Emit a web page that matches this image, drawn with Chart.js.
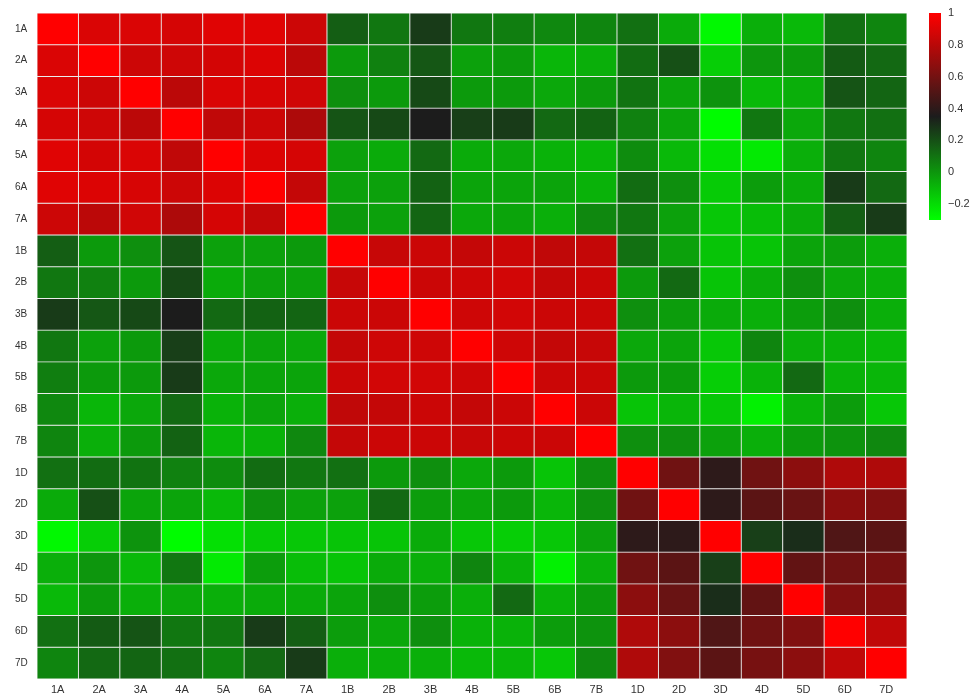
<!DOCTYPE html>
<html>
<head>
<meta charset="utf-8">
<script src="https://cdn.jsdelivr.net/npm/chart.js@4/dist/chart.umd.min.js"></script>
<style>
  body { margin: 0; background: #fff; }
</style>
</head>
<body>
<canvas id="heat" width="974" height="696"></canvas>
<script>
// sample labels, same order on both axes
const samples = ['1A', '2A', '3A', '4A', '5A', '6A', '7A',
                 '1B', '2B', '3B', '4B', '5B', '6B', '7B',
                 '1D', '2D', '3D', '4D', '5D', '6D', '7D'];

// correlation matrix, one row per sample (top to bottom)
const corr = [
  [1, 0.895, 0.895, 0.88, 0.91, 0.91, 0.855, 0.16, 0.09, 0.26, 0.09, 0.07, 0.04, 0.05, 0.11, -0.06, -0.28, -0.07, -0.10, 0.11, 0.05],
  [0.895, 1, 0.855, 0.86, 0.875, 0.90, 0.805, -0.01, 0.06, 0.18, -0.03, -0.01, -0.09, -0.07, 0.12, 0.20, -0.16, 0.00, -0.01, 0.17, 0.13],
  [0.895, 0.855, 1, 0.805, 0.895, 0.885, 0.865, 0.02, -0.01, 0.22, -0.01, -0.01, -0.05, -0.01, 0.10, -0.04, 0.01, -0.10, -0.07, 0.19, 0.14],
  [0.88, 0.86, 0.805, 1, 0.82, 0.855, 0.765, 0.19, 0.22, 0.35, 0.25, 0.26, 0.13, 0.15, 0.06, -0.04, -0.29, 0.09, -0.05, 0.09, 0.11],
  [0.91, 0.875, 0.895, 0.82, 1, 0.90, 0.88, -0.03, -0.06, 0.13, -0.06, -0.05, -0.08, -0.09, 0.03, -0.10, -0.21, -0.24, -0.07, 0.09, 0.05],
  [0.91, 0.90, 0.885, 0.855, 0.90, 1, 0.83, -0.03, -0.03, 0.15, -0.04, -0.04, -0.04, -0.08, 0.12, 0.02, -0.15, -0.02, -0.06, 0.26, 0.13],
  [0.855, 0.805, 0.865, 0.765, 0.88, 0.83, 1, -0.01, -0.03, 0.14, -0.05, -0.04, -0.07, 0.04, 0.09, -0.03, -0.14, -0.11, -0.06, 0.16, 0.26],
  [0.16, -0.01, 0.02, 0.19, -0.03, -0.03, -0.01, 1, 0.84, 0.85, 0.83, 0.85, 0.82, 0.83, 0.11, -0.03, -0.13, -0.13, -0.04, -0.02, -0.07],
  [0.09, 0.06, -0.01, 0.22, -0.06, -0.03, -0.03, 0.84, 1, 0.85, 0.86, 0.87, 0.83, 0.85, -0.01, 0.13, -0.13, -0.06, 0.02, -0.05, -0.07],
  [0.26, 0.18, 0.22, 0.35, 0.13, 0.15, 0.14, 0.85, 0.85, 1, 0.86, 0.87, 0.85, 0.85, 0.02, -0.02, -0.06, -0.07, -0.02, 0.02, -0.07],
  [0.09, -0.03, -0.01, 0.25, -0.06, -0.04, -0.05, 0.83, 0.86, 0.86, 1, 0.86, 0.83, 0.84, -0.05, -0.04, -0.14, 0.05, -0.07, -0.08, -0.10],
  [0.07, -0.01, -0.01, 0.26, -0.05, -0.04, -0.04, 0.85, 0.87, 0.87, 0.86, 1, 0.85, 0.85, -0.01, -0.01, -0.16, -0.08, 0.13, -0.08, -0.09],
  [0.04, -0.09, -0.05, 0.13, -0.08, -0.04, -0.07, 0.82, 0.83, 0.85, 0.83, 0.85, 1, 0.85, -0.13, -0.09, -0.14, -0.26, -0.08, -0.02, -0.14],
  [0.05, -0.07, -0.01, 0.15, -0.09, -0.08, 0.04, 0.83, 0.85, 0.85, 0.84, 0.85, 0.85, 1, 0.02, 0.02, -0.03, -0.07, -0.01, 0.01, 0.04],
  [0.11, 0.12, 0.10, 0.06, 0.03, 0.12, 0.09, 0.11, -0.01, 0.02, -0.05, -0.01, -0.13, 0.02, 1, 0.59, 0.40, 0.59, 0.67, 0.77, 0.77],
  [-0.06, 0.20, -0.04, -0.04, -0.10, 0.02, -0.03, -0.03, 0.13, -0.02, -0.04, -0.01, -0.09, 0.02, 0.59, 1, 0.40, 0.53, 0.57, 0.67, 0.64],
  [-0.28, -0.16, 0.01, -0.29, -0.21, -0.15, -0.14, -0.13, -0.13, -0.06, -0.14, -0.16, -0.14, -0.03, 0.40, 0.40, 1, 0.25, 0.30, 0.50, 0.53],
  [-0.07, 0.00, -0.10, 0.09, -0.24, -0.02, -0.11, -0.13, -0.06, -0.07, 0.05, -0.08, -0.26, -0.07, 0.59, 0.53, 0.25, 1, 0.55, 0.59, 0.61],
  [-0.10, -0.01, -0.07, -0.05, -0.07, -0.06, -0.06, -0.04, 0.02, -0.02, -0.07, 0.13, -0.08, -0.01, 0.67, 0.57, 0.30, 0.55, 1, 0.64, 0.67],
  [0.11, 0.17, 0.19, 0.09, 0.09, 0.26, 0.16, -0.02, -0.05, 0.02, -0.08, -0.08, -0.02, 0.01, 0.77, 0.67, 0.50, 0.59, 0.64, 1, 0.82],
  [0.05, 0.13, 0.14, 0.11, 0.05, 0.13, 0.26, -0.07, -0.07, -0.07, -0.10, -0.09, -0.14, 0.04, 0.77, 0.64, 0.53, 0.61, 0.67, 0.82, 1]
];

// colour key
const keyTicks = [1, 0.8, 0.6, 0.4, 0.2, 0, -0.2];
const keyMin = -0.3, keyMid = 0.35, keyMax = 1;

// green -> near black -> red
const LOW = [0, 255, 0], MID = [28, 28, 28], HIGH = [255, 0, 0];
function colorFor(v) {
  let a, b, t;
  if (v <= keyMid) {
    a = LOW; b = MID; t = (v - keyMin) / (keyMid - keyMin);
  } else {
    a = MID; b = HIGH; t = (v - keyMid) / (keyMax - keyMid);
  }
  t = Math.max(0, Math.min(1, t));
  const c = a.map((x, i) => Math.round(x + (b[i] - x) * t));
  return `rgb(${c[0]},${c[1]},${c[2]})`;
}

const n = samples.length;

// one floating-bar dataset per row, cell r spans [n-1-r, n-r] on y
const datasets = corr.map((row, r) => ({
  label: samples[r],
  data: row.map(() => [n - 1 - r, n - r]),
  backgroundColor: row.map(colorFor),
  borderColor: '#ececec',
  borderWidth: 0.8,
  borderSkipped: false,
  barPercentage: 1,
  categoryPercentage: 1
}));

const colorKey = {
  id: 'colorKey',
  afterDraw(chart) {
    const { ctx, chartArea } = chart;
    const x = chartArea.right + 22, w = 12;
    const top = chartArea.top, h = 207;
    const yOf = v => top + (keyMax - v) / (keyMax - keyMin) * h;
    const grad = ctx.createLinearGradient(0, yOf(keyMax), 0, yOf(keyMin));
    for (let i = 0; i <= 20; i++) {
      const v = keyMax - (keyMax - keyMin) * i / 20;
      grad.addColorStop(i / 20, colorFor(v));
    }
    ctx.save();
    ctx.fillStyle = grad;
    ctx.fillRect(x, top, w, h);
    ctx.fillStyle = '#333';
    ctx.font = '11px "Liberation Sans", Arial, sans-serif';
    ctx.textAlign = 'left';
    ctx.textBaseline = 'middle';
    keyTicks.forEach(v => {
      ctx.fillText(v < 0 ? '\u2212' + Math.abs(v) : String(v), x + w + 7, yOf(v));
    });
    ctx.restore();
  }
};

new Chart(document.getElementById('heat'), {
  type: 'bar',
  data: { labels: samples, datasets },
  options: {
    responsive: false,
    animation: false,
    layout: { padding: { top: 13, right: 67, left: 15, bottom: 0 } },
    plugins: {
      legend: { display: false },
      tooltip: {
        callbacks: {
          label: (c) => `${c.dataset.label} / ${c.label}: ${corr[c.datasetIndex][c.dataIndex]}`
        }
      }
    },
    scales: {
      x: {
        stacked: true,
        grid: { display: false, drawTicks: false },
        border: { display: false },
        ticks: {
          autoSkip: false,
          maxRotation: 0,
          padding: 4,
          color: '#333',
          font: { family: '"Liberation Sans", Arial, sans-serif', size: 11 }
        },
        afterFit: (s) => { s.height = 17; }
      },
      y: {
        stacked: false,
        min: 0,
        max: n,
        grid: { display: false, drawTicks: false },
        border: { display: false },
        afterBuildTicks: (axis) => {
          axis.ticks = samples.map((_, i) => ({ value: n - 0.5 - i }));
        },
        ticks: {
          autoSkip: false,
          padding: 0,
          crossAlign: 'far',
          color: '#333',
          font: { family: '"Liberation Sans", Arial, sans-serif', size: 10 },
          callback: (v) => samples[Math.round(n - 0.5 - v)]
        },
        afterFit: (s) => { s.width = 22; }
      }
    }
  },
  plugins: [colorKey]
});
</script>
</body>
</html>
